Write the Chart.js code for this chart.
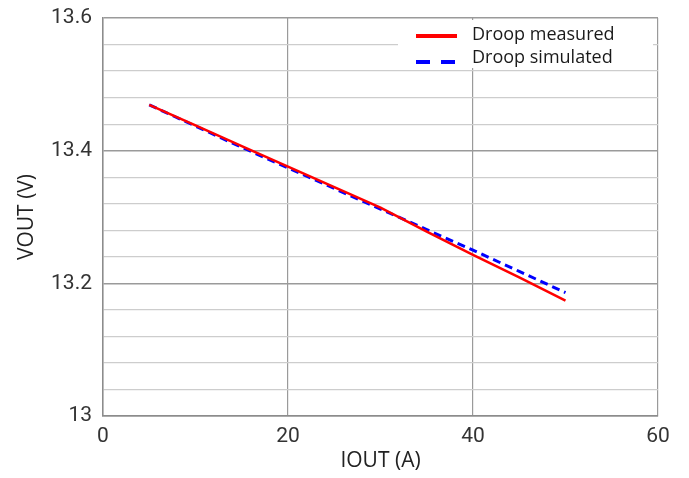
<!DOCTYPE html>
<html>
<head>
<meta charset="utf-8">
<script src="https://cdn.jsdelivr.net/npm/chart.js@4"></script>
<style>
  html, body { margin: 0; padding: 0; background: #fff; }
  #wrap { width: 689px; height: 478px; }
</style>
</head>
<body>
<div id="wrap"><canvas id="myChart" width="689" height="478"></canvas></div>
<script>
// values
const iout = [5, 10, 15, 20, 25, 30, 35, 40, 45, 50];
const droopMeasured = [13.469, 13.438, 13.407, 13.376, 13.345, 13.314, 13.278, 13.243, 13.209, 13.174];
const droopSimulated = [13.469, 13.437, 13.405, 13.374, 13.343, 13.312, 13.281, 13.25, 13.218, 13.186];
const seriesNames = ["Droop measured", "Droop simulated"];

function toPoints(ys) {
  return iout.map(function (x, i) {
    return { x: x, y: ys[i] };
  });
}

function isMajor(v) {
  return Math.abs(v * 5 - Math.round(v * 5)) < 1e-6;
}

// legend box drawn inside the plot, top right
const legendBox = {
  id: "legendBox",
  afterDatasetsDraw: function (chart) {
    const c = chart.ctx;
    c.save();
    c.fillStyle = "#ffffff";
    c.fillRect(398, 20, 255, 48);
    c.lineWidth = 4;
    c.strokeStyle = "#ff0000";
    c.beginPath();
    c.moveTo(416, 36);
    c.lineTo(457, 36);
    c.stroke();
    c.strokeStyle = "#0000ff";
    c.setLineDash([14, 11]);
    c.beginPath();
    c.moveTo(416, 62);
    c.lineTo(457, 62);
    c.stroke();
    c.setLineDash([]);
    c.fillStyle = "#1a1a1a";
    c.font = '18px "Open Sans"';
    c.textBaseline = "middle";
    c.fillText(seriesNames[0], 472, 35);
    c.fillText(seriesNames[1], 472, 58);
    c.restore();
  },
};

const ctx = document.querySelector("#myChart");
new Chart(ctx, {
  type: "line",
  data: {
    datasets: [
      {
        label: seriesNames[0],
        data: toPoints(droopMeasured),
        borderColor: "#ff0000",
        borderWidth: 2.5,
        pointRadius: 0,
        tension: 0,
      },
      {
        label: seriesNames[1],
        data: toPoints(droopSimulated),
        borderColor: "#0000ff",
        borderWidth: 3,
        borderDash: [8, 5],
        pointRadius: 0,
        tension: 0,
      },
    ],
  },
  options: {
    responsive: false,
    animation: false,
    layout: { padding: { top: 18, right: 31, left: 0, bottom: 0 } },
    plugins: {
      legend: { display: false },
      tooltip: { enabled: false },
    },
    scales: {
      x: {
        type: "linear",
        min: 0,
        max: 60,
        ticks: {
          stepSize: 20,
          padding: 8,
          color: "#333333",
          font: { family: "Roboto", size: 21 },
        },
        grid: { color: "#9a9a9a", lineWidth: 1.2, drawTicks: false },
        border: { color: "#8c8c8c", width: 1.5 },
        title: {
          display: true,
          text: "IOUT (A)",
          color: "#222222",
          font: { family: "Open Sans", size: 21 },
          padding: { top: 0, bottom: 4 },
        },
        afterFit: function (scale) {
          scale.height = 62;
        },
      },
      y: {
        min: 13,
        max: 13.6,
        ticks: {
          stepSize: 0.04,
          autoSkip: false,
          padding: 11,
          color: "#333333",
          font: { family: "Roboto", size: 21 },
          callback: function (v) {
            return isMajor(v) ? String(Math.round(v * 10) / 10) : "";
          },
        },
        grid: {
          drawTicks: false,
          color: function (c) {
            return c.tick && isMajor(c.tick.value) ? "#9a9a9a" : "#cdcdcd";
          },
          lineWidth: function (c) {
            return c.tick && isMajor(c.tick.value) ? 1.4 : 1.2;
          },
        },
        border: { color: "#8c8c8c", width: 1.5 },
        title: {
          display: true,
          text: "VOUT (V)",
          color: "#222222",
          font: { family: "Open Sans", size: 21 },
          padding: { top: 14, bottom: 0 },
        },
        afterFit: function (scale) {
          scale.width = 103;
          scale.paddingTop = 0;
          scale.paddingBottom = 0;
        },
      },
    },
  },
  plugins: [legendBox],
});
</script>
</body>
</html>
